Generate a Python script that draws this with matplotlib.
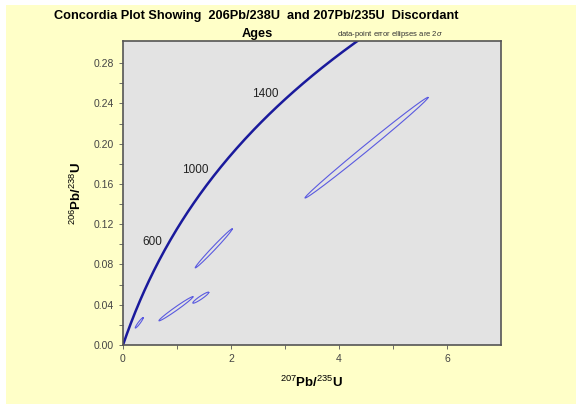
import numpy as np
import matplotlib.pyplot as plt
from matplotlib.patches import Rectangle

plt.rcParams['mathtext.fontset'] = 'custom'
plt.rcParams['mathtext.rm'] = 'Liberation Sans'
plt.rcParams['mathtext.bf'] = 'Liberation Sans:bold'
plt.rcParams['mathtext.it'] = 'Liberation Sans:italic'

# decay constants (per year)
lam238 = 1.55125e-10
lam235 = 9.8485e-10

# concordia ages, Ma
ages = np.arange(0, 1801, 10)
label_ages = [600, 1000, 1400]
label_offsets = [(-14, 5), (-18, 6), (-18, 7)]

# error ellipses: centre 207/235, centre 206/238, half-range x, half-range y, rho
ell_x = [0.30, 0.98, 1.44, 1.68, 4.51]
ell_y = [0.022, 0.036, 0.047, 0.096, 0.196]
ell_ax = [0.074, 0.315, 0.148, 0.343, 1.14]
ell_ay = [0.0052, 0.012, 0.0055, 0.0194, 0.050]
ell_rho = [0.95, 0.985, 0.94, 0.992, 0.997]

fig = plt.figure(figsize=(5.76, 4.04), dpi=100)
fig.patch.set_facecolor('white')
fig.patches.append(Rectangle((6/576, 0), 1, 1 - 5/404, transform=fig.transFigure,
                             facecolor='#ffffc8', edgecolor='none', zorder=-10))

ax = fig.add_axes([123/576, 1 - 345/404, (501-123)/576, (345-41)/404])
ax.set_facecolor('#e3e3e3')

t = ages * 1e6
cx = np.exp(lam235 * t) - 1
cy = np.exp(lam238 * t) - 1
ax.plot(cx, cy, color='#1a1a9c', lw=1.8)

for a, (ox, oy) in zip(label_ages, label_offsets):
    tt = a * 1e6
    ax.annotate(str(a), (np.exp(lam235*tt) - 1, np.exp(lam238*tt) - 1),
                xytext=(ox, oy), textcoords='offset pixels', ha='center', va='center',
                fontsize=8.5, color='#222222', family='Liberation Sans')

th = np.linspace(0, 2*np.pi, 300)
for x0, y0, a1, a2, r in zip(ell_x, ell_y, ell_ax, ell_ay, ell_rho):
    ex = x0 + a1*np.cos(th)
    ey = y0 + a2*(r*np.cos(th) + np.sqrt(1 - r**2)*np.sin(th))
    ax.plot(ex, ey, color='#5a5ae0', lw=0.8)

ax.set_xlim(0, 7)
ax.set_ylim(0, 0.302)
ax.set_xticks([0, 2, 4, 6])
ax.set_xticks([1, 3, 5], minor=True)
ax.set_yticks(np.arange(0, 0.29, 0.04))
ax.set_yticks(np.arange(0.02, 0.30, 0.04), minor=True)
ax.set_yticklabels(['%.2f' % v for v in np.arange(0, 0.29, 0.04)])
ax.tick_params(which='both', direction='out', length=3, width=0.6, color='#555555',
               labelsize=7.5, labelcolor='#444444')
for lab in ax.get_xticklabels() + ax.get_yticklabels():
    lab.set_family('Liberation Sans')
for s in ax.spines.values():
    s.set_color('#555555')
    s.set_linewidth(1.2)

ax.set_xlabel(r'$^{207}$Pb/$^{235}$U', fontsize=9.5, fontweight='bold', family='Liberation Sans', labelpad=8)
ax.set_ylabel(r'$^{206}$Pb/$^{238}$U', fontsize=9.5, fontweight='bold', family='Liberation Sans', labelpad=7)

fig.text(256/576, 1 - 16/404, 'Concordia Plot Showing  206Pb/238U  and 207Pb/235U  Discordant',
         ha='center', va='center', fontsize=9.2, fontweight='bold', family='Liberation Sans')
fig.text(257/576, 1 - 34/404, 'Ages', ha='center', va='center', fontsize=9.2,
         fontweight='bold', family='Liberation Sans')
fig.text(443/576, 1 - 35/404, r'data-point error ellipses are 2$\sigma$', ha='right', va='center',
         fontsize=5.5, color='#333333', family='Liberation Sans')

fig.savefig('out.png', dpi=100)
